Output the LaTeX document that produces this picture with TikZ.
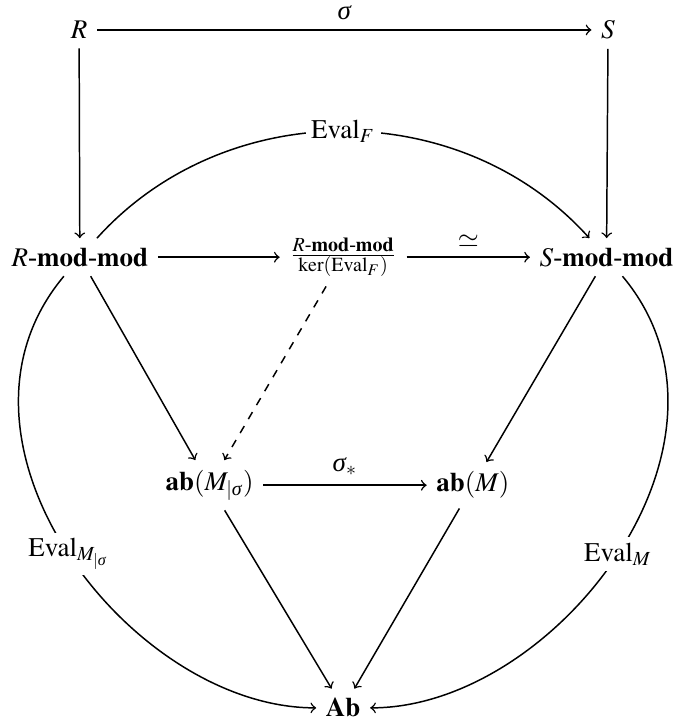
\documentclass[tikz,border=0pt]{standalone}
\usepackage{amsmath}
\usepackage{mathptmx}
\usepackage{fontspec}
\setmainfont{Liberation Serif}
\newcommand{\sig}{\text{\normalfont\itshape σ}}
\begin{document}
\begin{tikzpicture}[x=1cm,y=1cm,line width=0.55pt,
  lab/.style={fill=white,inner sep=2pt}]
\useasboundingbox (0,0) rectangle (8.79,9.43);
\node (R) at (1.03,9.04) {$R$};
\node (S) at (7.92,9.04) {$S$};
\node (Rmm) at (1.04,6.08) {$R$-$\mathbf{mod}$-$\mathbf{mod}$};
\node (Q) at (4.47,6.08) {$\frac{R\text{-}\mathbf{mod}\text{-}\mathbf{mod}}{\ker(\mathrm{Eval}_F)}$};
\node (Smm) at (7.90,6.08) {$S$-$\mathbf{mod}$-$\mathbf{mod}$};
\node (abMs) at (2.73,3.11) {$\mathbf{ab}(M_{|\sig})$};
\node (abM) at (6.16,3.11) {$\mathbf{ab}(M)$};
\node (Ab) at (4.47,0.21) {$\mathbf{Ab}$};
\draw[->] (R) -- node[above]{$\sig$} (S);
\draw[->] (R) -- (Rmm);
\draw[->] (S) -- (Smm);
\draw[->] (Rmm) to[out=48,in=132] node[lab]{$\mathrm{Eval}_F$} (Smm);
\draw[->] (Rmm) -- (Q);
\draw[->] (Q) -- node[above]{$\simeq$} (Smm);
\draw[->] (Rmm) -- (abMs);
\draw[->,dashed] (Q) -- (abMs);
\draw[->] (Smm) -- (abM);
\draw[->] (abMs) -- node[above]{$\sig_*$} (abM);
\draw[->] (abMs) -- (Ab);
\draw[->] (abM) -- (Ab);
\draw[->] (Rmm) to[out=-130,in=180,out looseness=1.1,in looseness=0.95] node[lab]{$\mathrm{Eval}_{M_{|\sig}}$} (Ab);
\draw[->] (Smm) to[out=-50,in=0,out looseness=1.1,in looseness=0.95] node[lab]{$\mathrm{Eval}_M$} (Ab);
\end{tikzpicture}
\end{document}
